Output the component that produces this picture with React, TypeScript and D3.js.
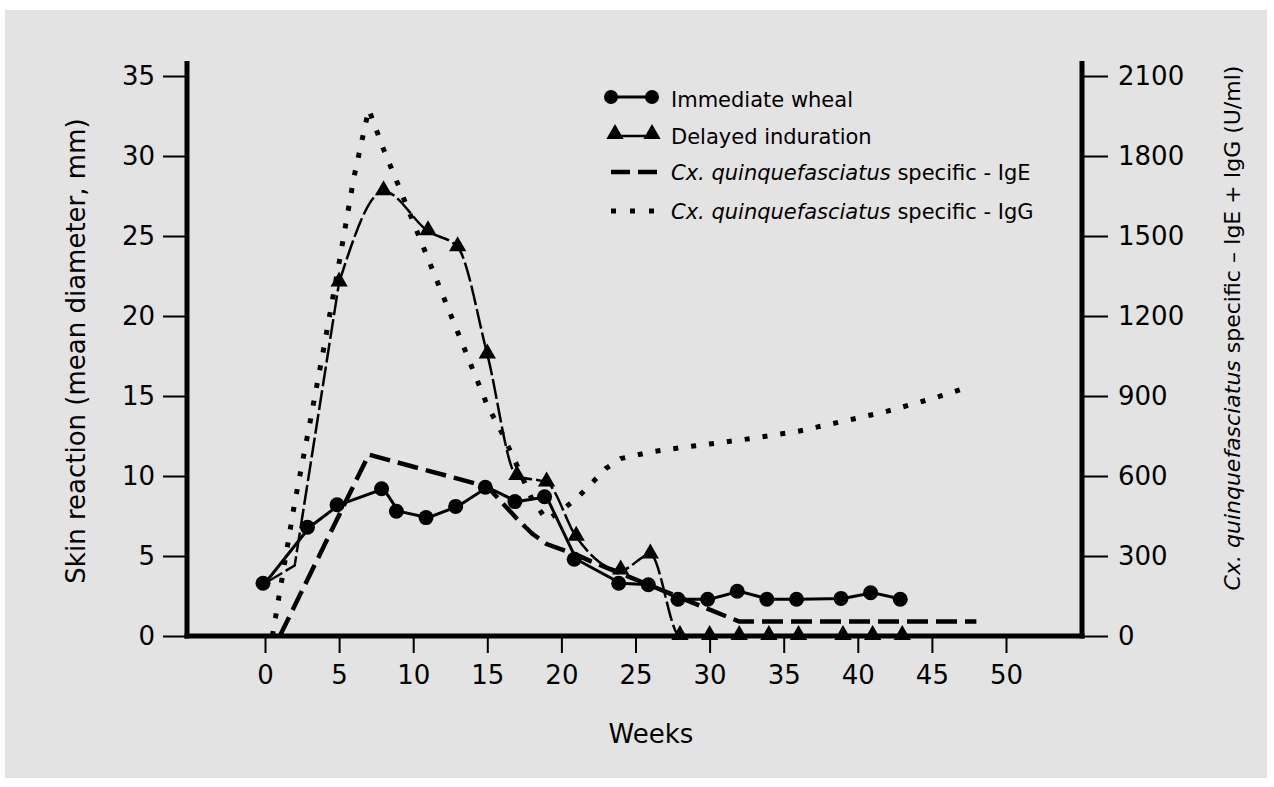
import React, { useEffect, useRef } from 'react';
import * as d3 from 'd3';

// axis ticks
const weekTicks = [0, 5, 10, 15, 20, 25, 30, 35, 40, 45, 50];
const skinTicks = [0, 5, 10, 15, 20, 25, 30, 35];
const antibodyTicks = [0, 300, 600, 900, 1200, 1500, 1800, 2100];

// skin reaction, mm (left axis)
const whealWeeks = [0, 3, 5, 8, 9, 11, 13, 15, 17, 19, 21, 24, 26, 28, 30, 32, 34, 36, 39, 41, 43];
const whealMm = [3.3, 6.8, 8.2, 9.2, 7.8, 7.4, 8.1, 9.3, 8.4, 8.7, 4.8, 3.3, 3.2, 2.3, 2.3, 2.8, 2.3, 2.3, 2.35, 2.7, 2.3];

const indurationWeeks = [0, 2, 5, 8, 11, 13, 15, 17, 19, 21, 24, 26, 28, 30, 32, 34, 36, 39, 41, 43];
const indurationMm = [3.3, 4.4, 22.1, 27.8, 25.3, 24.3, 17.6, 10.0, 9.6, 6.2, 4.1, 5.1, 0, 0, 0, 0, 0, 0, 0, 0];

// antibody level, U/ml (right axis)
const igeWeeks = [1, 7, 15, 17, 18, 19, 21, 22, 32, 48];
const igeUml = [0, 680, 560, 440, 385, 345, 305, 280, 54, 54];

const iggWeeks = [0.5, 2, 3, 4, 5, 6, 7, 8, 9, 11, 13, 15, 16, 17, 18, 19, 20, 21, 22, 23, 24, 26, 28, 30, 33, 36, 39, 42, 45, 47];
const iggUml = [0, 499, 790, 1090, 1400, 1720, 1975, 1825, 1690, 1415, 1140, 865, 760, 640, 515, 435, 470, 515, 570, 628, 665, 690, 706, 720, 742, 768, 805, 843, 890, 925];

const legendLabels = ['Immediate wheal', 'Delayed induration'];
const legendSpecies = 'Cx. quinquefasciatus';
const legendIg = [' specific - IgE', ' specific - IgG'];

const FONT = '"DejaVu Sans", sans-serif';

const App = () => {
  const ref = useRef<SVGSVGElement>(null);

  useEffect(() => {
    const svg = d3.select(ref.current);
    svg.selectAll('*').remove();

    svg.append('rect')
      .attr('x', 5).attr('y', 10)
      .attr('width', 1262).attr('height', 768)
      .attr('fill', '#e3e3e3');

    const left = 187, right = 1082, top = 61, bottom = 636;

    const x = d3.scaleLinear().domain([0, 50]).range([265, 1006]);
    const yL = d3.scaleLinear().domain([0, 35]).range([bottom, 76]);
    const yR = d3.scaleLinear().domain([0, 2100]).range([bottom, 76]);

    const g = svg.append('g').style('font-family', FONT);

    // axes
    const ax = g.append('g')
      .attr('transform', `translate(0, ${bottom})`)
      .call(d3.axisBottom(x).tickValues(weekTicks).tickSize(17).tickPadding(13));
    const ayL = g.append('g')
      .attr('transform', `translate(${left}, 0)`)
      .call(d3.axisLeft(yL).tickValues(skinTicks).tickSize(24).tickPadding(8));
    const ayR = g.append('g')
      .attr('transform', `translate(${right}, 0)`)
      .call(d3.axisRight(yR).tickValues(antibodyTicks).tickFormat(d3.format('d')).tickSize(26).tickPadding(10));

    [ax, ayL, ayR].forEach(a => {
      a.select('.domain').remove();
      a.selectAll('.tick line').attr('stroke', '#000').attr('stroke-width', 2);
      a.selectAll('.tick text')
        .attr('fill', '#000')
        .style('font-size', '26px')
        .style('font-family', FONT);
    });

    // heavy frame lines
    g.append('line').attr('x1', left).attr('x2', left).attr('y1', top).attr('y2', bottom + 2.5)
      .attr('stroke', '#000').attr('stroke-width', 5);
    g.append('line').attr('x1', right).attr('x2', right).attr('y1', top).attr('y2', bottom + 2.5)
      .attr('stroke', '#000').attr('stroke-width', 5);
    g.append('line').attr('x1', left - 2.5).attr('x2', right + 2.5).attr('y1', bottom).attr('y2', bottom)
      .attr('stroke', '#000').attr('stroke-width', 5);

    // axis titles
    g.append('text')
      .attr('transform', 'translate(85, 351) rotate(-90)')
      .attr('text-anchor', 'middle')
      .style('font-size', '26px')
      .text('Skin reaction (mean diameter, mm)');

    const rt = g.append('text')
      .attr('transform', 'translate(1240, 328) rotate(-90)')
      .attr('text-anchor', 'middle')
      .style('font-size', '22px');
    rt.append('tspan').style('font-style', 'italic').text(legendSpecies);
    rt.append('tspan').text(' specific \u2013 IgE + IgG (U/ml)');

    g.append('text')
      .attr('x', 651).attr('y', 743)
      .attr('text-anchor', 'middle')
      .style('font-size', '26px')
      .text('Weeks');

    // series
    const iggLine = d3.line<number>()
      .x((d, i) => x(iggWeeks[i]))
      .y(d => yR(d));
    g.append('path')
      .attr('d', iggLine(iggUml))
      .attr('fill', 'none').attr('stroke', '#000')
      .attr('stroke-width', 5).attr('stroke-dasharray', '5 13');

    const igeLine = d3.line<number>()
      .x((d, i) => x(igeWeeks[i]))
      .y(d => yR(d));
    g.append('path')
      .attr('d', igeLine(igeUml))
      .attr('fill', 'none').attr('stroke', '#000')
      .attr('stroke-width', 4.5).attr('stroke-dasharray', '21 8');

    // induration: straight rise up to week 5, smooth after
    const indPts: [number, number][] = indurationMm.map((d, i) => [x(indurationWeeks[i]), yL(d)]);
    const indRise = d3.line();
    const indRest = d3.line().curve(d3.curveMonotoneX);
    [indRise(indPts.slice(0, 3)), indRest(indPts.slice(2))].forEach(p => {
      g.append('path')
        .attr('d', p)
        .attr('fill', 'none').attr('stroke', '#000')
        .attr('stroke-width', 2.5).attr('stroke-dasharray', '20 4');
    });

    const tri = d3.symbol().type(d3.symbolTriangle).size(130);
    // first two readings sit under the wheal markers
    g.selectAll('.tri')
      .data(indurationMm.slice(2))
      .enter().append('path')
      .attr('class', 'tri')
      .attr('d', tri)
      .attr('transform', (d, i) => `translate(${x(indurationWeeks[i + 2])}, ${yL(d) - 1})`)
      .attr('fill', '#000');

    const whealLine = d3.line<number>()
      .x((d, i) => x(whealWeeks[i]))
      .y(d => yL(d));
    g.append('path')
      .attr('d', whealLine(whealMm))
      .attr('fill', 'none').attr('stroke', '#000')
      .attr('stroke-width', 3);

    g.selectAll('.dot')
      .data(whealMm)
      .enter().append('circle')
      .attr('class', 'dot')
      .attr('cx', (d, i) => x(whealWeeks[i]) - 2)
      .attr('cy', d => yL(d))
      .attr('r', 7.5)
      .attr('fill', '#000');

    // legend
    const lg = g.append('g');
    const rowY = [97, 134, 172, 211];
    const textX = 671;

    lg.append('line').attr('x1', 611).attr('x2', 652).attr('y1', rowY[0]).attr('y2', rowY[0])
      .attr('stroke', '#000').attr('stroke-width', 3);
    lg.selectAll('.lc').data([611, 652]).enter().append('circle')
      .attr('cx', d => d).attr('cy', rowY[0]).attr('r', 7).attr('fill', '#000');

    lg.append('line').attr('x1', 615).attr('x2', 652).attr('y1', rowY[1] + 2).attr('y2', rowY[1] + 2)
      .attr('stroke', '#000').attr('stroke-width', 2.5);
    lg.selectAll('.lt').data([615, 652]).enter().append('path')
      .attr('d', tri)
      .attr('transform', d => `translate(${d}, ${rowY[1]})`)
      .attr('fill', '#000');

    lg.append('line').attr('x1', 611).attr('x2', 657).attr('y1', rowY[2]).attr('y2', rowY[2])
      .attr('stroke', '#000').attr('stroke-width', 4.5).attr('stroke-dasharray', '19 8');

    lg.append('line').attr('x1', 611).attr('x2', 656).attr('y1', rowY[3]).attr('y2', rowY[3])
      .attr('stroke', '#000').attr('stroke-width', 5).attr('stroke-dasharray', '5 14');

    legendLabels.forEach((t, i) => {
      lg.append('text')
        .attr('x', textX).attr('y', rowY[i] + 10)
        .style('font-size', '21px')
        .text(t);
    });
    legendIg.forEach((t, i) => {
      const tx = lg.append('text')
        .attr('x', textX).attr('y', rowY[i + 2] + 8)
        .style('font-size', '21px');
      tx.append('tspan').style('font-style', 'italic').text(legendSpecies);
      tx.append('tspan').text(t);
    });
  }, []);

  return (
    <svg
      ref={ref}
      width={1274}
      height={787}
      style={{ position: 'absolute', left: 0, top: 0, background: '#fff' }}
    />
  );
};

export default App;
